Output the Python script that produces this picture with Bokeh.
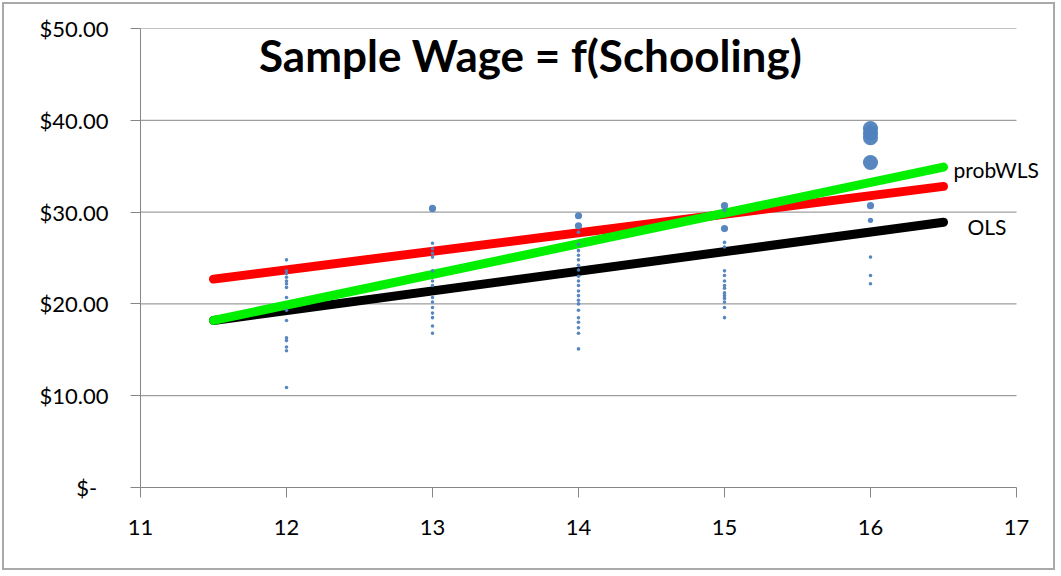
from bokeh.plotting import figure
from bokeh.models import FixedTicker, Label, ColumnDataSource
from bokeh.embed import file_html
from bokeh.resources import INLINE

# ---- data ----
school_12 = [24.8, 23.6, 23.3, 22.9, 22.5, 22.2, 21.8, 20.7, 19.3, 18.2, 16.3, 16.0, 15.3, 14.9, 10.9]
freq_12 = [1, 1, 1, 1, 1, 1, 1, 1, 1, 1, 1, 1, 1, 1, 1]
school_13 = [30.4, 26.6, 26.0, 25.5, 25.1, 23.6, 22.5, 22.0, 20.7, 20.2, 19.6, 19.0, 18.5, 17.6, 16.8]
freq_13 = [2, 1, 1, 1, 1, 1, 1, 1, 1, 1, 1, 1, 1, 1, 1]
school_14 = [29.6, 28.5, 27.8, 26.5, 25.8, 25.3, 24.8, 24.2, 23.7, 23.0, 22.5, 22.0, 21.4, 20.9,
             20.4, 20.0, 19.3, 18.5, 18.0, 17.4, 16.8, 15.1]
freq_14 = [2, 2, 1, 1, 1, 1, 1, 1, 1, 1, 1, 1, 1, 1, 1, 1, 1, 1, 1, 1, 1, 1]
school_15 = [30.7, 30.2, 28.2, 26.7, 26.2, 23.6, 23.1, 22.5, 22.0, 21.7, 21.2, 20.9, 20.6, 20.2, 19.6, 18.5]
freq_15 = [2, 1, 2, 1, 1, 1, 1, 1, 1, 1, 1, 1, 1, 1, 1, 1]
school_16 = [39.1, 38.6, 38.1, 35.4, 30.7, 29.1, 25.1, 23.1, 22.2]
freq_16 = [4.2, 4.2, 4.2, 4.2, 2, 1.5, 1, 1, 1]

fit_x = [11.5, 16.5]
ols_y = [18.2, 28.9]
wls_y = [22.7, 32.8]
probwls_y = [18.2, 34.9]

x_ticks = [11, 12, 13, 14, 15, 16, 17]
y_ticks = [0, 10, 20, 30, 40, 50]
y_tick_labels = ["$-\u00a0\u00a0", "$10.00", "$20.00", "$30.00", "$40.00", "$50.00"]
title_text = "Sample Wage = f(Schooling)"

# ---- build ----
xs, ys, fs = [], [], []
for yrs, wages, fr in [(12, school_12, freq_12), (13, school_13, freq_13), (14, school_14, freq_14),
                       (15, school_15, freq_15), (16, school_16, freq_16)]:
    xs += [yrs] * len(wages)
    ys += wages
    fs += fr
src = ColumnDataSource(dict(x=xs, y=ys, s=[3.6 * f for f in fs]))

FONT = "Lato"
GRAY = "#868686"

# frame extends a little past x=17 so the series labels are not clipped
p = figure(width=1053, height=568, x_range=(11, 17.274), y_range=(0, 50),
           output_backend="svg", toolbar_location=None,
           min_border_left=136, min_border_right=1, min_border_top=24, min_border_bottom=85)
p.styles = {"border": "2px solid #a9a9a9", "margin": "2px"}
p.outline_line_color = None
p.background_fill_color = "white"
p.border_fill_color = "white"

p.xgrid.grid_line_color = None
p.ygrid.grid_line_color = None

# horizontal gridlines spanning only the axis extent
p.segment(x0=[x_ticks[0]] * (len(y_ticks) - 1), x1=[x_ticks[-1]] * (len(y_ticks) - 1),
          y0=y_ticks[1:], y1=y_ticks[1:], line_color=GRAY, line_width=1)

for ax in (p.xaxis[0], p.yaxis[0]):
    ax.axis_line_color = GRAY
    ax.major_tick_line_color = GRAY
    ax.minor_tick_line_color = None
    ax.major_tick_out = 10
    ax.major_tick_in = 0
    ax.major_label_text_font = FONT
    ax.major_label_text_font_size = "22px"
    ax.major_label_text_color = "#000000"

p.xaxis.ticker = FixedTicker(ticks=x_ticks)
p.xaxis.bounds = (x_ticks[0], x_ticks[-1])
p.xaxis.major_label_standoff = 22
p.yaxis.ticker = FixedTicker(ticks=y_ticks)
p.yaxis.major_label_overrides = {t: lab for t, lab in zip(y_ticks, y_tick_labels)}
p.yaxis.major_label_standoff = 22

p.line(fit_x, ols_y, line_color="#000000", line_width=9, line_cap="round")
p.line(fit_x, wls_y, line_color="#FF0000", line_width=9, line_cap="round")
p.line(fit_x, probwls_y, line_color="#00F000", line_width=9, line_cap="round")

p.scatter("x", "y", size="s", source=src, fill_color="#4F81BD", line_color=None, fill_alpha=0.95)

p.add_layout(Label(x=fit_x[1], y=probwls_y[1], x_offset=10, y_offset=-2, text="probWLS",
                   text_font=FONT, text_font_size="21px", text_baseline="middle", text_color="#000000"))
p.add_layout(Label(x=fit_x[1], y=ols_y[1], x_offset=24, y_offset=-4, text="OLS",
                   text_font=FONT, text_font_size="21px", text_baseline="middle", text_color="#000000"))
p.add_layout(Label(x=390, y=433, x_units="screen", y_units="screen", text=title_text,
                   text_font=FONT, text_font_style="bold", text_font_size="44px",
                   text_align="center", text_baseline="middle", text_color="#000000"))

open("out.html", "w").write(file_html(p, INLINE))
